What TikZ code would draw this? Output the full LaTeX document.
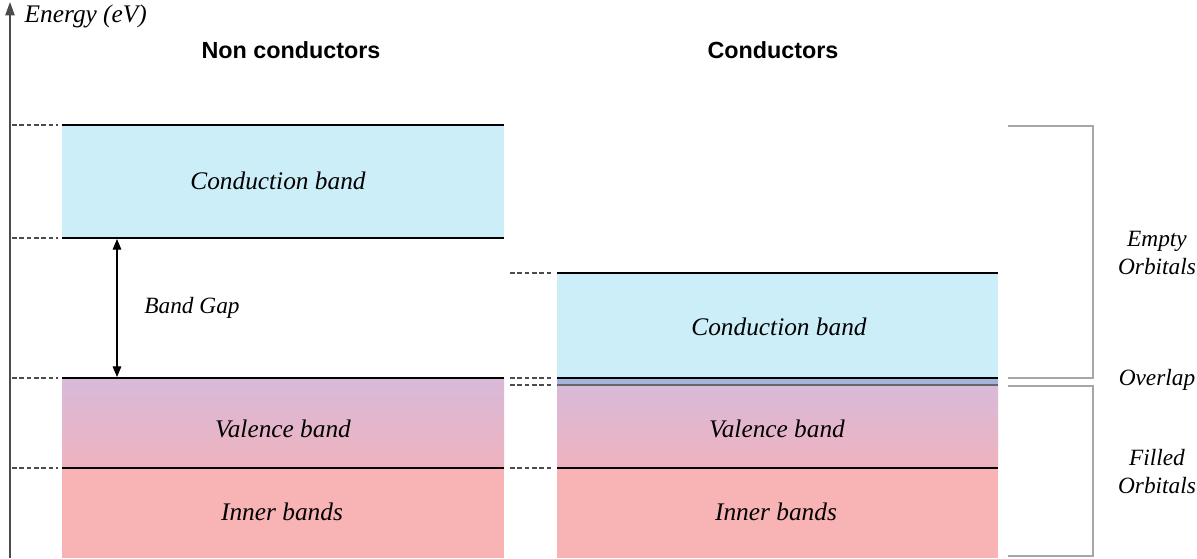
\documentclass[tikz,border=0pt]{standalone}
\usepackage{fontspec}
\setmainfont{Liberation Serif}
\setsansfont{Liberation Sans}
\usetikzlibrary{arrows.meta}
\definecolor{condblue}{HTML}{CCEEF8}
\definecolor{valtop}{HTML}{D8BADA}
\definecolor{valbot}{HTML}{EFB2BE}
\definecolor{innerpink}{HTML}{F8B3B4}
\definecolor{overlapblue}{HTML}{A4B3DC}
\tikzset{
  edge/.style={line width=0.9pt},
  guide/.style={draw=black!70, line width=0.8pt, dash pattern=on 3.5pt off 2pt},
  brace/.style={draw=black!35, line width=1.1pt},
  bandtext/.style={font=\fontsize{19}{22}\selectfont\itshape},
  sidetext/.style={font=\fontsize{17.5}{21}\selectfont\itshape, align=center},
  head/.style={font=\fontsize{17.5}{21}\selectfont\sffamily\bfseries},
  gaptip/.tip={Triangle[length=8pt,width=6.5pt]},
}
\begin{document}
\begin{tikzpicture}[x=0.75pt,y=-0.75pt]
    \useasboundingbox (0,0) rectangle (1197,558);
    % energy axis
    \draw [black!70, line width=1pt, -{Triangle[length=10pt,width=7pt]}] (10,558) -- (10,2);
    \node [bandtext, anchor=west] (axis) at (20,16) {Energy (eV)};
    % non conductors
    \node [head] (nonc) at (291,50) {Non conductors};
    \fill [condblue] (62,125) rectangle (504,238);
    \shade [top color=valtop, bottom color=valbot] (62,378) rectangle (504,468);
    \fill [innerpink] (62,468) rectangle (504,558);
    \draw [edge] (62,125) -- (504,125);
    \draw [edge] (62,238) -- (504,238);
    \draw [edge] (62,378) -- (504,378);
    \draw [edge] (62,468) -- (504,468);
    \foreach \y in {125,238,378,468}
        \draw [guide] (12,\y) -- (58,\y);
    \node [bandtext] (cbl) at (278,181) {Conduction band};
    \node [bandtext] (vbl) at (283,429) {Valence band};
    \node [bandtext] (ibl) at (282,512) {Inner bands};
    \coordinate (gtop) at (117,239);
    \coordinate (gbot) at (117,377);
    \draw [line width=0.8pt, gaptip-gaptip] (gtop) -- (gbot);
    \node [sidetext] (gap) at (192,308) {Band Gap};
    % conductors
    \node [head] (cond) at (773,50) {Conductors};
    \fill [condblue] (557,273) rectangle (998,378);
    \fill [overlapblue] (557,378) rectangle (998,385);
    \shade [top color=valtop, bottom color=valbot] (557,385) rectangle (998,468);
    \fill [innerpink] (557,468) rectangle (998,558);
    \draw [edge] (557,273) -- (998,273);
    \draw [edge] (557,378) -- (998,378);
    \draw [black!60, line width=0.8pt] (557,385) -- (998,385);
    \draw [edge] (557,468) -- (998,468);
    \foreach \y in {273,378,385,468}
        \draw [guide] (510,\y) -- (553,\y);
    \node [bandtext] (cbr) at (779,327) {Conduction band};
    \node [bandtext] (vbr) at (777,429) {Valence band};
    \node [bandtext] (ibr) at (776,512) {Inner bands};
    % brackets
    \draw [brace] (1008,126) -- (1093,126) -- (1093,378) -- (1008,378);
    \draw [brace] (1008,386) -- (1093,386) -- (1093,556) -- (1008,556);
    \node [sidetext] (empty) at (1157,253) {Empty\\Orbitals};
    \node [sidetext] (over) at (1157,380) {Overlap};
    \node [sidetext] (fill) at (1157,472) {Filled\\Orbitals};
\end{tikzpicture}
\end{document}
